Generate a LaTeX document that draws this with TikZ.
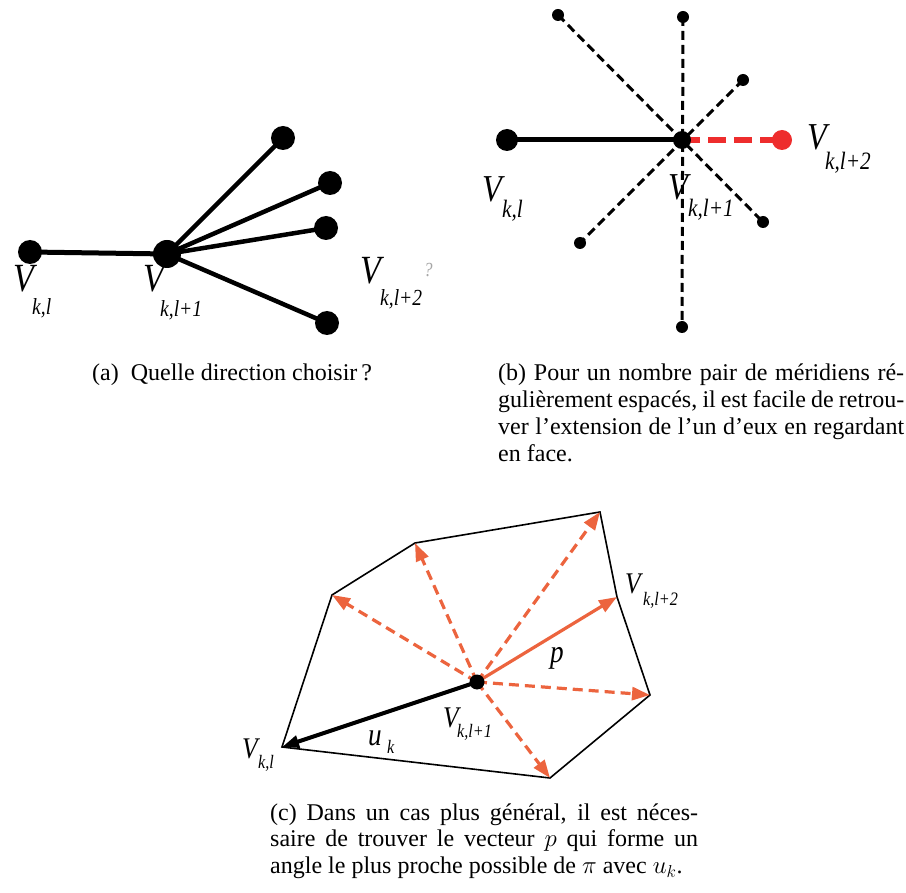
\documentclass[tikz,border=0pt]{standalone}
\usepackage{fontspec}
\setmainfont{Liberation Serif}
\newfontfamily\capfont[FakeStretch=0.85]{Liberation Serif}
\usetikzlibrary{arrows.meta,backgrounds}
\definecolor{orng}{RGB}{236,100,62}
\definecolor{redd}{RGB}{238,45,45}
\tikzset{
  lab/.style={inner sep=0pt, anchor=base west, font=\capfont\itshape\fontsize{#1}{#1}\selectfont},
  captext/.style={inner sep=0pt, anchor=base west, font=\rmfamily\fontsize{24}{26.7}\selectfont},
  vdot/.style={circle, fill=black, inner sep=0pt, minimum size=#1},
  thickline/.style={line width=5pt},
  meridian/.style={line width=3pt, dash pattern=on 9pt off 5pt},
  redline/.style={line width=6pt, redd, dash pattern=on 18pt off 8pt},
  odash/.style={orng, line width=3.2pt, dash pattern=on 10pt off 6pt, -{Triangle[length=18pt,width=13pt]}},
  osolid/.style={orng, line width=3.2pt, -{Triangle[length=18pt,width=13pt]}},
  barrow/.style={black, line width=4pt, -{Triangle[length=17pt,width=12pt]}}
}
\begin{document}
\begin{tikzpicture}[x=1pt,y=-1pt]
\useasboundingbox (0,0) rectangle (906,893);

% ---------- (a) ----------
\node[vdot=24] (a0) at (30,252) {};
\node[vdot=28] (a1) at (167,254) {};
\node[vdot=24] (a2) at (283,138) {};
\node[vdot=24] (a3) at (330,183) {};
\node[vdot=24] (a4) at (326,228) {};
\node[vdot=24] (a5) at (327,323) {};
\begin{scope}[on background layer]
  \draw[thickline] (a0.center) -- (a1.center);
  \foreach \t in {a2,a3,a4,a5} \draw[line width=4.5pt] (a1.center) -- (\t.center);
\end{scope}
\node[lab=40] (aV1) at (13,292) {V};
\node[lab=23] (aS1) at (32,315) {k,l};
\node[lab=40] (aV2) at (143,292) {V};
\node[lab=23] (aS2) at (160,317) {k,l+1};
\node[lab=40] (aV3) at (360,284) {V};
\node[lab=23] (aS3) at (380,306) {k,l+2};
\node[lab=20, text=gray!70] (aQ) at (424,277) {?};

% ---------- (b) ----------
\node[vdot=22] (b0) at (507,140) {};
\node[vdot=18] (b1) at (682,140) {};
\node[vdot=20, fill=redd] (b2) at (782,140) {};
\node[vdot=12] (b3) at (683,17) {};
\node[vdot=12] (b4) at (682,327) {};
\node[vdot=12] (b5) at (558,15) {};
\node[vdot=12] (b6) at (763,222) {};
\node[vdot=12] (b7) at (743,80) {};
\node[vdot=12] (b8) at (580,243) {};
\begin{scope}[on background layer]
  \draw[thickline] (b0.center) -- (b1.center);
  \draw[meridian] (b3.center) -- (b4.center);
  \draw[meridian] (b5.center) -- (b6.center);
  \draw[meridian] (b7.center) -- (b8.center);
  \draw[redline] (b1.center) -- (b2.center);
\end{scope}
\node[lab=38] (bV1) at (482,202) {V};
\node[lab=25] (bS1) at (502,218) {k,l};
\node[lab=38] (bV2) at (668,200) {V};
\node[lab=25] (bS2) at (688,217) {k,l+1};
\node[lab=38] (bV3) at (807,150) {V};
\node[lab=25] (bS3) at (825,170) {k,l+2};

% ---------- (c) ----------
\coordinate (v1) at (282,747);
\coordinate (v2) at (332,595);
\coordinate (v3) at (415,543);
\coordinate (v4) at (600,512);
\coordinate (v5) at (617,597);
\coordinate (v6) at (650,695);
\coordinate (v7) at (550,778);
\node[vdot=15] (c0) at (477,682) {};
\begin{scope}[on background layer]
  \draw[line width=1.6pt, line join=miter] (v1) -- (v2) -- (v3) -- (v4) -- (v5) -- (v6) -- (v7) -- cycle;
  \foreach \t in {v2,v3,v4,v6,v7} \draw[odash] (c0.center) -- (\t);
  \draw[osolid] (c0.center) -- (v5);
  \draw[barrow] (c0.center) -- (v1);
\end{scope}
\node[lab=30] (cV1) at (242,758) {V};
\node[lab=19] (cS1) at (258,768) {k,l};
\node[lab=32] (cU) at (368,745) {u};
\node[lab=19] (cUk) at (387,753) {k};
\node[lab=30] (cV2) at (443,727) {V};
\node[lab=19] (cS2) at (457,737) {k,l+1};
\node[lab=30] (cV3) at (625,593) {V};
\node[lab=19] (cS3) at (643,605) {k,l+2};
\node[lab=32] (cP) at (550,662) {p};

% ---------- captions ----------
\node[captext] (capa) at (92,381) {(a)\enspace Quelle direction choisir\,?};
\node[captext] (capb) at (498,381) {\vtop{\hsize=406pt
  \hbox to\hsize{(b) Pour un nombre pair de méridiens ré-}
  \hbox to\hsize{gulièrement espacés, il est facile de retrou-}
  \hbox to\hsize{ver l’extension de l’un d’eux en regardant}
  \hbox{en face.}}};
\node[captext] (capc) at (270,820) {\vtop{\hsize=428pt
  \hbox to\hsize{(c) Dans un cas plus général, il est néces-}
  \hbox to\hsize{saire de trouver le vecteur $p$ qui forme un}
  \hbox{angle le plus proche possible de $\pi$ avec $u_k$.}}};
\end{tikzpicture}
\end{document}
